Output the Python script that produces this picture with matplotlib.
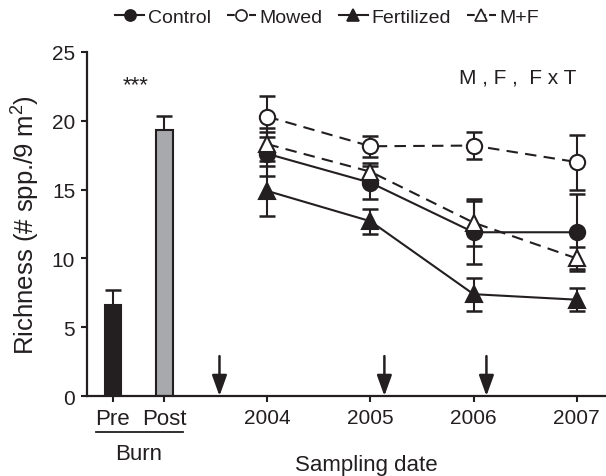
import matplotlib
matplotlib.use('Agg')
import matplotlib.pyplot as plt
from matplotlib.lines import Line2D
import numpy as np

# 字体设置
plt.rcParams['font.family'] = ['Liberation Sans', 'DejaVu Sans']
plt.rcParams['mathtext.default'] = 'regular'

# 烧荒前后柱状数据
burn_labels = ['Pre', 'Post']
burn_values = [6.6, 19.3]
burn_err = [1.1, 1.05]
burn_colors = ['#231f20', '#a7a9ac']

# 各年份采样数据
years = ['2004', '2005', '2006', '2007']
control = [17.6, 15.5, 11.9, 11.9]
control_err = [1.6, 1.2, 2.3, 2.8]
mowed = [20.3, 18.15, 18.2, 17.0]
mowed_err = [1.5, 0.75, 1.0, 2.0]
fertilized = [14.9, 12.7, 7.4, 7.0]
fertilized_err = [1.8, 0.9, 1.2, 0.85]
mf = [18.3, 16.3, 12.6, 10.0]
mf_err = [1.2, 0.6, 1.7, 0.8]

# 处理事件箭头位置(坐标轴位置)
arrow_x = [2.07, 5.27, 7.25]

INK = '#231f20'

# x轴位置
burn_pos = np.arange(len(burn_labels))
year_pos = 3 + 2 * np.arange(len(years))

fig = plt.figure(figsize=(6.06, 4.77), dpi=100)
ax = fig.add_axes([0.1436, 0.1677, 0.8564, 0.7212])

# 柱状图
ax.bar(burn_pos, burn_values, width=0.32, color=burn_colors, edgecolor=INK, linewidth=1.5, zorder=2)
ax.errorbar(burn_pos, burn_values, yerr=[[0, 0], burn_err], fmt='none', ecolor=INK,
            elinewidth=1.5, capsize=6, capthick=1.8, zorder=1)

# 折线
series = [
    ('Control', control, control_err, '-', 'o', INK),
    ('Mowed', mowed, mowed_err, '--', 'o', 'white'),
    ('Fertilized', fertilized, fertilized_err, '-', '^', INK),
    ('M+F', mf, mf_err, '--', '^', 'white'),
]
handles = []
for name, vals, err, ls, mk, fc in series:
    ax.errorbar(year_pos, vals, yerr=err, fmt='none', ecolor=INK, elinewidth=1.5,
                capsize=6, capthick=1.8, zorder=3)
    line, = ax.plot(year_pos, vals, linestyle=ls, color=INK, linewidth=1.5, zorder=4)
    if ls == '--':
        line.set_dashes((5.5, 3.5))
    ax.plot(year_pos, vals, linestyle='none', marker=mk, markersize=11,
            markerfacecolor=fc, markeredgecolor=INK, markeredgewidth=1.5, zorder=5)
    handles.append(Line2D([], [], linestyle=ls, color=INK, linewidth=1.5, marker=mk,
                          markersize=8, markerfacecolor=fc, markeredgecolor=INK,
                          markeredgewidth=1.2, label=name))

# 箭头
for xa in arrow_x:
    ax.annotate('', xy=(xa, 0), xytext=(xa, 2.9),
                arrowprops=dict(arrowstyle='-|>,head_length=1.25,head_width=0.45',
                                color=INK, lw=1.8, shrinkA=0, shrinkB=0))

# 坐标轴
ax.set_xlim(-0.5, 9.57)
ax.set_ylim(0, 25)
ax.set_yticks(np.arange(0, 26, 5))
ax.set_xticks(list(burn_pos) + list(year_pos))
ax.set_xticklabels(burn_labels + years)
for s in ['top', 'right']:
    ax.spines[s].set_visible(False)
for s in ['left', 'bottom']:
    ax.spines[s].set_linewidth(1.6)
    ax.spines[s].set_color(INK)
ax.tick_params(axis='both', length=4.5, width=1.5, color=INK, labelsize=15, labelcolor=INK, pad=4)
for lbl in ax.get_xticklabels()[:2]:
    lbl.set_fontsize(16)

ax.set_ylabel('Richness (# spp./9 m$^2$)', fontsize=18.5, color=INK, labelpad=7)
ax.set_xlabel('Sampling date', fontsize=16, color=INK, va='top')
ax.xaxis.set_label_coords(0.538, -0.168)

# 烧荒标注
ax.plot([-0.32, 1.36], [-2.62, -2.62], color=INK, linewidth=1.3, clip_on=False)
ax.text(0.5, -4.15, 'Burn', fontsize=16, color=INK, ha='center', va='center', clip_on=False)

# 显著性文本
ax.text(0.45, 22.6, '***', fontsize=16, color=INK, ha='center', va='center')
ax.text(7.85, 23.2, 'M , F ,  F x T', fontsize=15, color=INK, ha='center', va='center')

# 图例
fig.legend(handles=handles, loc='center', bbox_to_anchor=(0.540, 0.962), ncol=4,
           frameon=False, fontsize=14, handlelength=1.5, handletextpad=0.2,
           columnspacing=0.8, borderaxespad=0, labelcolor=INK)

plt.savefig('out.png', dpi=100)
